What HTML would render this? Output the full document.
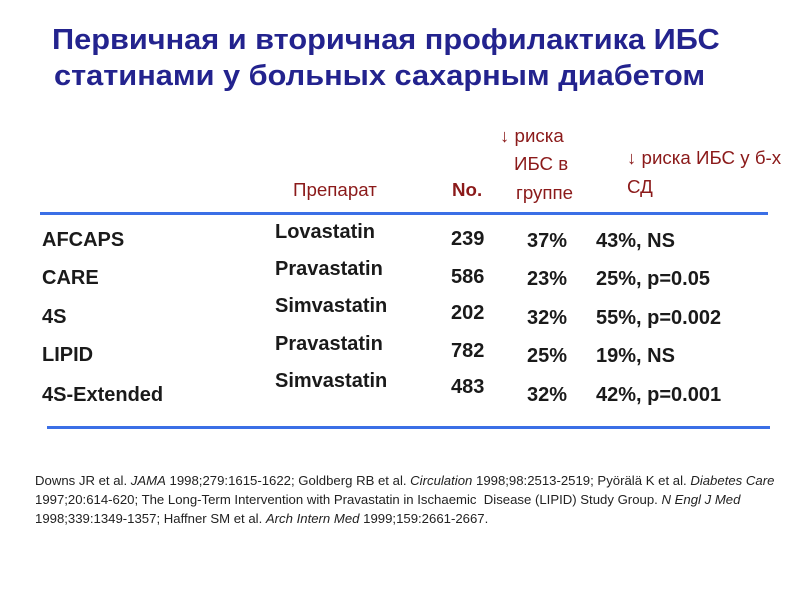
<!DOCTYPE html>
<html><head><meta charset="utf-8"><style>
body{margin:0;width:800px;height:600px;background:#fff;position:relative;overflow:hidden;font-family:"Liberation Sans","DejaVu Sans",sans-serif}
.t{position:absolute;white-space:nowrap;transform-origin:0 50%;line-height:1}
.ti{color:#23238e;font-weight:bold;font-size:29px;transform:scaleX(1.06)}
.h{color:#8b1a1a;font-size:18px;transform:scaleX(1.04)}
.c{color:#1a1a1a;font-weight:bold;font-size:20px;transform:scaleX(1.0)}
.f{color:#222;font-size:13px;line-height:1;transform:scaleX(1.012)}
.ln{position:absolute;height:3px;background:#3b6fe6}
</style></head><body>
<div class="t ti" style="left:52px;top:26px">Первичная и вторичная профилактика ИБС</div>
<div class="t ti" style="left:54px;top:62px">статинами у больных сахарным диабетом</div>

<div class="t h" style="left:293px;top:181px">Препарат</div>
<div class="t h" style="left:452px;top:181px;font-weight:bold">No.</div>
<div class="t h" style="left:500px;top:127px">↓ риска</div>
<div class="t h" style="left:514px;top:155px">ИБС в</div>
<div class="t h" style="left:516px;top:184px">группе</div>
<div class="t h" style="left:627px;top:149px">↓ риска ИБС у б-х</div>
<div class="t h" style="left:627px;top:178px">СД</div>

<div class="ln" style="left:40px;top:212px;width:728px"></div>
<div class="ln" style="left:47px;top:426px;width:723px"></div>

<div class="t c" style="left:42px;top:230px">AFCAPS</div>
<div class="t c" style="left:42px;top:268px">CARE</div>
<div class="t c" style="left:42px;top:307px">4S</div>
<div class="t c" style="left:42px;top:345px">LIPID</div>
<div class="t c" style="left:42px;top:385px">4S-Extended</div>

<div class="t c" style="left:275px;top:222px">Lovastatin</div>
<div class="t c" style="left:275px;top:259px">Pravastatin</div>
<div class="t c" style="left:275px;top:296px">Simvastatin</div>
<div class="t c" style="left:275px;top:334px">Pravastatin</div>
<div class="t c" style="left:275px;top:371px">Simvastatin</div>

<div class="t c" style="left:451px;top:229px">239</div>
<div class="t c" style="left:451px;top:267px">586</div>
<div class="t c" style="left:451px;top:303px">202</div>
<div class="t c" style="left:451px;top:341px">782</div>
<div class="t c" style="left:451px;top:377px">483</div>

<div class="t c" style="left:527px;top:231px">37%</div>
<div class="t c" style="left:527px;top:269px">23%</div>
<div class="t c" style="left:527px;top:308px">32%</div>
<div class="t c" style="left:527px;top:346px">25%</div>
<div class="t c" style="left:527px;top:385px">32%</div>

<div class="t c" style="left:596px;top:231px">43%, NS</div>
<div class="t c" style="left:596px;top:269px">25%, p=0.05</div>
<div class="t c" style="left:596px;top:308px">55%, p=0.002</div>
<div class="t c" style="left:596px;top:346px">19%, NS</div>
<div class="t c" style="left:596px;top:385px">42%, p=0.001</div>

<div class="t f" style="left:35px;top:474px">Downs JR et al. <i>JAMA</i> 1998;279:1615-1622; Goldberg RB et al. <i>Circulation</i> 1998;98:2513-2519; Pyörälä K et al. <i>Diabetes Care</i></div>
<div class="t f" style="left:35px;top:493px">1997;20:614-620; The Long-Term Intervention with Pravastatin in Ischaemic&nbsp; Disease (LIPID) Study Group. <i>N Engl J Med</i></div>
<div class="t f" style="left:35px;top:512px">1998;339:1349-1357; Haffner SM et al. <i>Arch Intern Med</i> 1999;159:2661-2667.</div>
</body></html>
